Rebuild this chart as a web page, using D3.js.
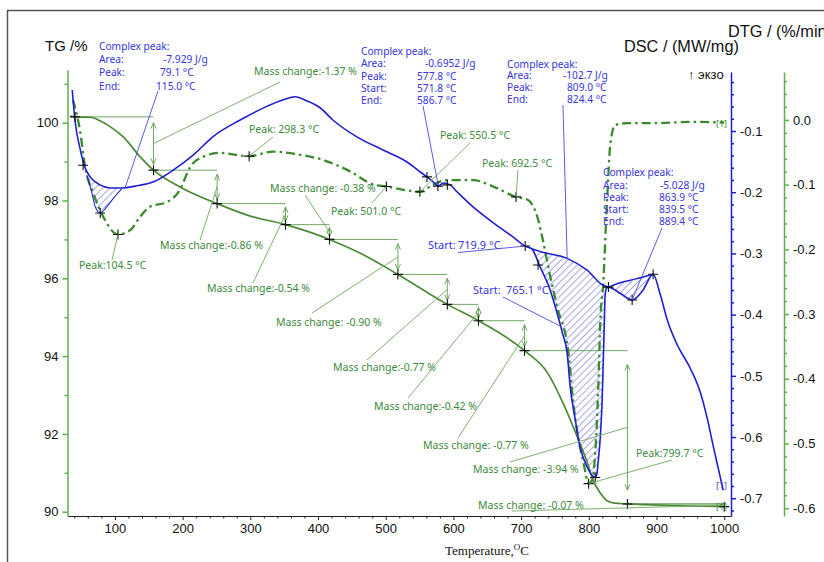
<!DOCTYPE html>
<html>
<head>
<meta charset="utf-8">
<script src="https://cdn.jsdelivr.net/npm/d3@7"></script>
<style>
  body { margin: 0; background: #fff; }
  svg { display: block; }
  .ann { font-family: "Noto Sans", sans-serif; font-size: 10.5px; }
  .axis text { font-family: "Liberation Sans", Arial, sans-serif; font-size: 13px; fill: #111; }
</style>
</head>
<body>
<div id="chart"></div>
<script>
// ---- data ----
// TG (%)
const tgTemp = [34, 41, 64, 78, 96, 112, 137, 157, 196, 251, 300, 352, 417, 462, 518, 591, 637, 705, 739, 762, 783, 798, 806, 817, 827, 838, 857, 920, 1000];
const tgVal  = [100.17, 100.15, 100.14, 100.05, 99.86, 99.64, 99.13, 98.78, 98.35, 97.92, 97.60, 97.38, 97.00, 96.65, 96.10, 95.33, 94.91, 94.14, 93.57, 92.79, 91.92, 91.25, 90.82, 90.48, 90.28, 90.22, 90.20, 90.16, 90.13];

// DSC (mW/mg)
const dscTemp = [37, 41, 49, 56, 63.5, 78, 93, 111, 130, 157, 186, 216, 245, 285, 322, 349, 366, 384, 403, 422, 458, 496, 532, 551, 561, 570, 577.5, 585, 595, 606, 629, 659, 688, 706, 716, 728, 743, 753, 761, 768, 772.5, 780, 787, 797.5, 806, 809.5, 812, 814, 817, 819.5, 821, 823, 824, 826, 829, 846, 864, 880, 895, 905, 916, 930, 950, 965, 975, 984, 998.5];
const dscVal  = [-0.033, -0.082, -0.131, -0.160, -0.175, -0.188, -0.193, -0.193, -0.190, -0.183, -0.164, -0.139, -0.109, -0.082, -0.061, -0.049, -0.044, -0.051, -0.062, -0.082, -0.110, -0.131, -0.151, -0.167, -0.175, -0.183, -0.190, -0.185, -0.188, -0.200, -0.224, -0.250, -0.273, -0.288, -0.293, -0.322, -0.360, -0.397, -0.430, -0.463, -0.518, -0.572, -0.616, -0.649, -0.664, -0.666, -0.660, -0.638, -0.600, -0.545, -0.491, -0.409, -0.370, -0.357, -0.355, -0.365, -0.376, -0.360, -0.334, -0.365, -0.409, -0.448, -0.488, -0.528, -0.570, -0.616, -0.687];

// DTG (%/min)
const dtgTemp = [38, 49, 56, 68, 83, 104.5, 123, 137, 152, 177, 196, 211, 230, 255, 298, 334, 374, 408, 448, 482, 501, 526, 550.5, 570, 591, 629, 659, 692.5, 709, 724, 733, 743, 753, 770, 777, 784, 792, 799.7, 805, 809.5, 814, 817, 821, 827, 832, 839, 857, 901, 950, 1000];
const dtgVal  = [0.031, -0.020, -0.073, -0.113, -0.150, -0.177, -0.170, -0.150, -0.134, -0.127, -0.108, -0.073, -0.057, -0.051, -0.056, -0.049, -0.054, -0.062, -0.080, -0.100, -0.103, -0.108, -0.111, -0.100, -0.093, -0.093, -0.103, -0.119, -0.123, -0.150, -0.190, -0.242, -0.288, -0.360, -0.437, -0.489, -0.529, -0.562, -0.556, -0.514, -0.412, -0.309, -0.258, -0.123, -0.035, -0.008, -0.005, -0.005, -0.003, -0.004];

// DSC peak edges / virtual baselines
const peak1Temp = [58.6, 66, 71, 78.3, 88, 100, 110.3];
const peak1Val  = [-0.172, -0.201, -0.224, -0.234, -0.224, -0.207, -0.194];
const base2Temp = [706, 728, 768, 797, 821, 829];
const base2Val  = [-0.288, -0.297, -0.308, -0.327, -0.352, -0.355];
const base3Temp = [829, 846, 868, 895];
const base3Val  = [-0.355, -0.348, -0.342, -0.334];

// mass change steps on TG
const stepTemp  = [41, 157, 251, 352, 417, 518, 591, 637, 705, 857, 1000];
const stepLevel = [100.15, 98.78, 97.92, 97.38, 97.00, 96.10, 95.33, 94.91, 94.14, 90.20, 90.13];
const massText  = ['Mass change:-1.37 %', 'Mass change:-0.86 %', 'Mass change:-0.54 %', 'Mass change: -0.38 %', 'Mass change: -0.90 %',
                   'Mass change:-0.77 %', 'Mass change:-0.42 %', 'Mass change: -0.77 %', 'Mass change: -3.94 %', 'Mass change: -0.07 %'];

// DTG peaks
const dtgPeakTemp = [104.5, 298.3, 501.0, 550.5, 692.5, 799.7];
const dtgPeakVal  = [-0.177, -0.056, -0.103, -0.111, -0.119, -0.562];
const dtgPeakText = ['Peak:104.5 °C', 'Peak: 298.3 °C', 'Peak: 501.0 °C', 'Peak: 550.5 °C', 'Peak: 692.5 °C', 'Peak:799.7 °C'];

// DSC markers
const dscMarkTemp = [53, 78.3, 561, 577, 591, 706, 725, 809.5, 829, 864, 895];
const dscMarkVal  = [-0.156, -0.234, -0.175, -0.190, -0.188, -0.288, -0.319, -0.666, -0.355, -0.376, -0.334];

// axis ticks
const tempTicks = [100, 200, 300, 400, 500, 600, 700, 800, 900, 1000];
const tgTicks   = [90, 92, 94, 96, 98, 100];
const dscTicks  = [-0.1, -0.2, -0.3, -0.4, -0.5, -0.6, -0.7];
const dtgTicks  = [0.0, -0.1, -0.2, -0.3, -0.4, -0.5, -0.6];

// ---- layout ----
const W = 824, H = 562;
const green = '#4a8a36', dtgGreen = '#3c8a2c', annGreen = '#3e8a3e', leadGreen = '#6fa862';
const blue = '#1f1fd0', annBlue = '#3535e0';

const svg = d3.select('#chart').append('svg').attr('width', W).attr('height', H);

const x = d3.scaleLinear().domain([30, 1010]).range([67.5, 731]);
const yTG = d3.scaleLinear().domain([89.89, 101.355]).range([516, 70]);
const yDSC = d3.scaleLinear().domain([-0.729, -0.0036]).range([516, 72]);
const yDTG = d3.scaleLinear().domain([-0.612, 0.074]).range([516, 72]);

const defs = svg.append('defs');
defs.append('pattern').attr('id', 'hatch').attr('patternUnits', 'userSpaceOnUse')
    .attr('width', 5).attr('height', 5).attr('patternTransform', 'rotate(45)')
    .append('line').attr('x1', 0).attr('y1', 0).attr('x2', 0).attr('y2', 5)
    .attr('stroke', '#3a3ad8').attr('stroke-width', 0.9);
defs.append('marker').attr('id', 'arr').attr('viewBox', '-7 -4 8 8')
    .attr('markerWidth', 8).attr('markerHeight', 8).attr('markerUnits', 'userSpaceOnUse')
    .attr('refX', 0).attr('refY', 0).attr('orient', 'auto-start-reverse')
    .append('path').attr('d', 'M-6,-2.5L0,0L-6,2.5').attr('fill', 'none').attr('stroke', leadGreen).attr('stroke-width', 1);

// frame
svg.append('path').attr('d', `M7.5,${H}V10.5H${W}`).attr('fill', 'none').attr('stroke', '#555').attr('stroke-width', 1.5);

// ---- axes ----
const bottom = svg.append('g').attr('class', 'axis').attr('transform', 'translate(0,516)');
bottom.call(d3.axisBottom(x).tickValues(tempTicks).tickSize(4).tickSizeOuter(0).tickPadding(4).tickFormat(d => String(d)));
bottom.append('g').call(d3.axisBottom(x).tickValues(d3.range(40, 1001, 20).filter(d => d % 100)).tickSize(2.5).tickFormat(''))
    .select('.domain').remove();
bottom.selectAll('path, line').attr('stroke', '#222');

const left = svg.append('g').attr('class', 'axis').attr('transform', 'translate(67.5,0)');
left.call(d3.axisLeft(yTG).tickValues(tgTicks).tickSize(5).tickSizeOuter(0).tickPadding(4));
left.append('g').call(d3.axisLeft(yTG).tickValues([91, 93, 95, 97, 99, 101]).tickSize(3).tickFormat(''))
    .select('.domain').remove();
left.selectAll('path, line').attr('stroke', '#5cb04a').attr('stroke-width', 1.5);

const right1 = svg.append('g').attr('class', 'axis').attr('transform', 'translate(731,0)');
right1.call(d3.axisRight(yDSC).tickValues(dscTicks).tickSize(5).tickSizeOuter(0).tickPadding(4).tickFormat(d => d.toFixed(1)));
right1.append('g').call(d3.axisRight(yDSC).tickValues(d3.range(1, 37).filter(i => i % 5).map(i => -i * 0.02)).tickSize(3).tickFormat(''))
    .select('.domain').remove();
right1.selectAll('path, line').attr('stroke', blue).attr('stroke-width', 1.5);

const right2 = svg.append('g').attr('class', 'axis').attr('transform', 'translate(784,0)');
right2.call(d3.axisRight(yDTG).tickValues(dtgTicks).tickSize(5).tickSizeOuter(0).tickPadding(4).tickFormat(d => Math.abs(d) < 1e-9 ? '0.0' : d.toFixed(1)));
right2.append('g').call(d3.axisRight(yDTG).tickValues(d3.range(-3, 31).filter(i => i % 5).map(i => -i * 0.02)).tickSize(3).tickFormat(''))
    .select('.domain').remove();
right2.selectAll('path, line').attr('stroke', '#5cb04a').attr('stroke-width', 1.5);

// titles
const title = (t, px, py, size, fam) => svg.append('text').attr('x', px).attr('y', py)
    .attr('font-family', fam || '"Liberation Sans", Arial, sans-serif').attr('font-size', size).attr('fill', '#111').text(t);
title('TG /%', 45, 51, 15);
title('DSC / (MW/mg)', 624, 52, 16.3);
title('DTG / (%/min)', 728, 37, 16.3);
title('↑ экзо', 688, 79, 13);
const xt = title('Temperature,', 445, 555, 13, '"Liberation Serif", "DejaVu Serif", serif');
xt.append('tspan').attr('dy', -5).attr('font-size', 9).text('O');
xt.append('tspan').attr('dy', 5).text('C');

// ---- helpers ----
const pts = (ts, vs) => d3.zip(ts, vs);
const lineOf = (yS, curve) => d3.line().x(d => x(d[0])).y(d => yS(d[1])).curve(curve || d3.curveMonotoneX);
const plain = d3.line().x(d => x(d[0])).y(d => yDSC(d[1]));

const dsc = pts(dscTemp, dscVal);

// hatched DSC peaks
const inRange = (a, b) => dsc.filter(d => d[0] >= a && d[0] <= b);
const hatch1 = pts(peak1Temp, peak1Val).concat(inRange(58, 111).reverse());
const hatch2 = inRange(706, 829).concat(pts(base2Temp, base2Val).reverse());
const hatch3 = inRange(829, 895).concat(pts(base3Temp, base3Val).reverse());
[hatch1, hatch2, hatch3].forEach(h => {
    svg.append('path').attr('d', plain(h) + 'Z').attr('fill', 'url(#hatch)').attr('stroke', 'none');
});

// ---- mass change steps ----
const steps = svg.append('g').attr('stroke', leadGreen).attr('stroke-width', 1).attr('fill', 'none');
for (let i = 0; i < stepTemp.length - 1; i++) {
    const x0 = x(stepTemp[i]), x1 = x(stepTemp[i + 1]);
    const y0 = yTG(stepLevel[i]), y1 = yTG(stepLevel[i + 1]);
    steps.append('line').attr('x1', x0).attr('x2', x1).attr('y1', y0).attr('y2', y0);
    const inset = 0.08 * (y1 - y0) + 1.5;
    if (y1 - y0 > 8) {
        steps.append('line').attr('x1', x1).attr('x2', x1).attr('y1', y0 + inset).attr('y2', y1 - inset)
            .attr('marker-start', 'url(#arr)').attr('marker-end', 'url(#arr)');
    }
}
steps.append('line').attr('x1', x(stepTemp[9])).attr('x2', x(1000)).attr('y1', yTG(stepLevel[9])).attr('y2', yTG(stepLevel[9]));

// ---- curves ----
svg.append('path').attr('d', lineOf(yTG)(pts(tgTemp, tgVal)))
    .attr('fill', 'none').attr('stroke', green).attr('stroke-width', 1.7);
svg.append('path').attr('d', lineOf(yDTG)(pts(dtgTemp, dtgVal)))
    .attr('fill', 'none').attr('stroke', dtgGreen).attr('stroke-width', 2.3).attr('stroke-dasharray', '9,4,2.5,4');
svg.append('path').attr('d', lineOf(yDSC)(pts(peak1Temp, peak1Val)))
    .attr('fill', 'none').attr('stroke', blue).attr('stroke-width', 1.1);
[pts(base2Temp, base2Val), pts(base3Temp, base3Val)].forEach(b => {
    svg.append('path').attr('d', lineOf(yDSC)(b)).attr('fill', 'none').attr('stroke', blue).attr('stroke-width', 1.5);
});
svg.append('path').attr('d', lineOf(yDSC)(dsc))
    .attr('fill', 'none').attr('stroke', blue).attr('stroke-width', 1.6);

// ---- markers ----
const cross = (px, py) => svg.append('path').attr('d', `M${px - 5},${py}H${px + 5}M${px},${py - 5}V${py + 5}`)
    .attr('stroke', '#111').attr('stroke-width', 1.1);
stepTemp.forEach((t, i) => cross(x(t), yTG(stepLevel[i])));
dtgPeakTemp.forEach((t, i) => cross(x(t), yDTG(dtgPeakVal[i])));
dscMarkTemp.forEach((t, i) => cross(x(t), yDSC(dscMarkVal[i])));

// ---- annotations ----
const ann = svg.append('g').attr('class', 'ann');
const lead = (x1, y1, x2, y2, c) => ann.append('line').attr('x1', x1).attr('y1', y1).attr('x2', x2).attr('y2', y2)
    .attr('stroke', c).attr('stroke-width', 0.9);
const txt = (t, px, py, c, anchor) => ann.append('text').attr('x', px).attr('y', py).attr('fill', c)
    .attr('text-anchor', anchor || 'start').text(t);

// mass change labels: text position and leader start (pixels)
const massPos = [[254, 75, 280, 82], [160, 249, 200, 240], [207, 292, 253, 283], [270, 192, 305, 195], [276, 326, 312, 313],
                 [333, 371, 367, 360], [374, 410, 408, 398], [423, 449, 458, 438], [473, 473, 510, 462], [478, 509, 512, 511]];
massText.forEach((t, i) => {
    const [tx, ty, lx, ly] = massPos[i];
    txt(t, tx, ty, annGreen);
    const ex = x(stepTemp[i + 1]);
    const ey = yTG((stepLevel[i] + stepLevel[i + 1]) / 2);
    lead(lx, ly, ex, ey, leadGreen);
});

// DTG peak labels
const peakPos = [[79, 269, 112, 260], [249, 133, 273, 137], [331, 215, 372, 203], [440, 139, 470, 143], [482, 167, 518, 170], [636, 457, 672, 460]];
dtgPeakText.forEach((t, i) => {
    const [tx, ty, lx, ly] = peakPos[i];
    txt(t, tx, ty, annGreen);
    lead(lx, ly, x(dtgPeakTemp[i]), yDTG(dtgPeakVal[i]), leadGreen);
});

// DSC peak blocks
const blocks = [
    { x: 99, rows: [['Complex peak:', '', 0, 49.5], ['Area:', '-7.929 J/g', 163, 63], ['Peak:', '79.1 °C', 160, 76], ['End:', '115.0 °C', 156, 90]],
      from: [158, 91], to: [115, -0.193] },
    { x: 361, rows: [['Complex peak:', '', 0, 55], ['Area:', '-0.6952 J/g', 425, 66.5], ['Peak:', '577.8 °C', 417, 80], ['Start:', '571.8 °C', 417, 92], ['End:', '586.7 °C', 417, 104]],
      from: [423, 106], to: [577.8, -0.190] },
    { x: 507, rows: [['Complex peak:', '', 0, 68], ['Area:', '-102.7 J/g', 563, 79], ['Peak:', '809.0 °C', 567, 91], ['End:', '824.4 °C', 567, 103]],
      from: [563, 105], to: [768, -0.308] },
    { x: 603, rows: [['Complex peak:', '', 0, 175.5], ['Area:', '-5.028 J/g', 660, 189], ['Peak:', '863.9 °C', 659, 201], ['Start:', '839.5 °C', 659, 213], ['End:', '889.4 °C', 659, 225]],
      from: [662, 228], to: [864, -0.376] }
];
blocks.forEach(b => {
    b.rows.forEach(r => {
        txt(r[0], b.x, r[3], annBlue).attr('font-size', 10.2);
        if (r[1]) txt(r[1], r[2], r[3], annBlue).attr('font-size', 10.2);
    });
    lead(b.from[0], b.from[1], x(b.to[0]), yDSC(b.to[1]), '#4a4ae0');
});

txt('Start:', 428, 249, annBlue).attr('font-size', 11);
txt('719.9 °C', 458, 249, annBlue).attr('font-size', 11);
lead(458, 252.5, x(706), yDSC(-0.288), '#4a4ae0');
txt('Start:', 473, 294, annBlue).attr('font-size', 11);
txt('765.1 °C', 506, 294, annBlue).attr('font-size', 11);
lead(503, 297, x(760), yDSC(-0.42), '#4a4ae0');

// curve end tags
txt('[1]', 716, 489, '#4a4ae0').attr('font-size', 9);
txt('[1]', 716, 510, annGreen).attr('font-size', 9);
txt('[1]', 716, 127, annGreen).attr('font-size', 9);
</script>
</body>
</html>
